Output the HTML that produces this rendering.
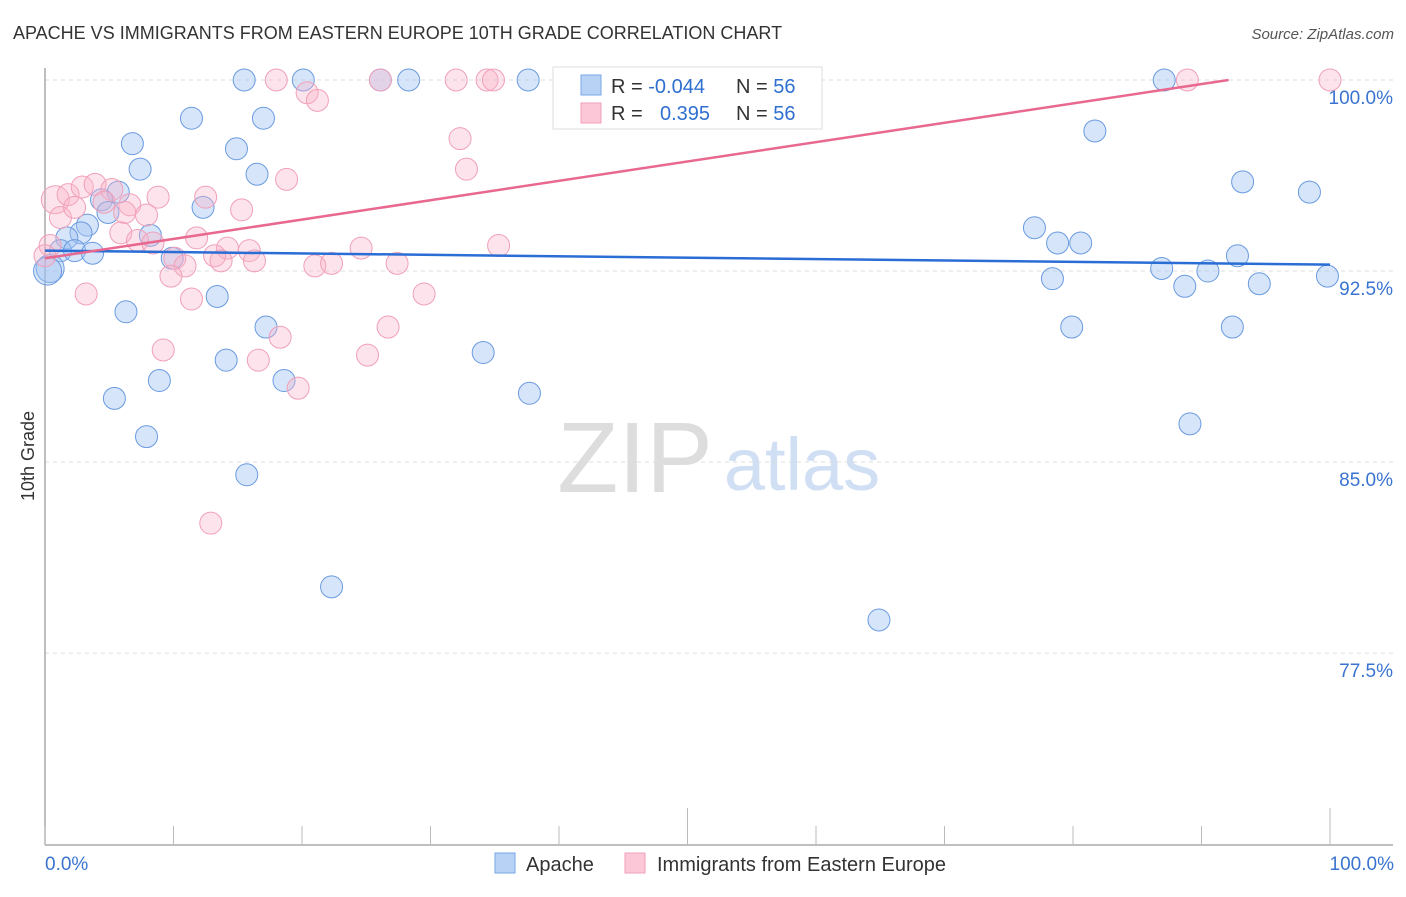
<!DOCTYPE html>
<html><head><meta charset="utf-8"><style>
body{margin:0;background:#fff;font-family:"Liberation Sans",sans-serif;}
svg text{font-family:"Liberation Sans",sans-serif;}
</style></head><body>
<svg id="chart" width="1406" height="892" viewBox="0 0 1406 892" xmlns="http://www.w3.org/2000/svg">
<text x="13" y="39" font-size="18" fill="#333">APACHE VS IMMIGRANTS FROM EASTERN EUROPE 10TH GRADE CORRELATION CHART</text>
<text x="1394" y="39" font-size="15" fill="#555" text-anchor="end" font-style="italic">Source: ZipAtlas.com</text>
<g>
<text x="635" y="492" font-size="100" fill="#ddd" font-family="Liberation Serif" text-anchor="middle">ZIP</text>
<text x="802" y="490" font-size="74" fill="#d0dff3" text-anchor="middle">atlas</text>
</g>
<text transform="translate(34,456) rotate(-90)" font-size="18" fill="#333" text-anchor="middle">10th Grade</text>
<g id="grid"></g>
<g id="axes"></g>
<g id="pts"></g>
<g id="lines"></g>
<g>
<rect x="553" y="67" width="269" height="62" fill="#fff" stroke="#ddd"/>
<rect x="581" y="75" width="20" height="20" fill="#b8d2f5" stroke="#7aa6e6"/>
<rect x="581" y="103" width="20" height="20" fill="#fcc8d8" stroke="#f0a0b8"/>
<text x="611" y="93" font-size="20" fill="#333">R = <tspan fill="#2f6fd0">-0.044</tspan></text>
<text x="736" y="93" font-size="20" fill="#333">N = <tspan fill="#2f6fd0">56</tspan></text>
<text x="611" y="120" font-size="20" fill="#333">R = <tspan fill="#2f6fd0" x="660">0.395</tspan></text>
<text x="736" y="120" font-size="20" fill="#333">N = <tspan fill="#2f6fd0">56</tspan></text>
</g>
<g>
<rect x="495" y="853" width="20" height="20" fill="#b8d2f5" stroke="#7aa6e6"/>
<text x="526" y="871" font-size="20" fill="#333">Apache</text>
<rect x="625" y="853" width="20" height="20" fill="#fcc8d8" stroke="#f0a0b8"/>
<text x="657" y="871" font-size="20" fill="#333">Immigrants from Eastern Europe</text>
</g>
<text x="45" y="870" font-size="19" fill="#3a74d0">0.0%</text>
<text x="1394" y="870" font-size="19" fill="#3a74d0" text-anchor="end">100.0%</text>
</svg>
<script>
const yTicks=[100,92.5,85,77.5];
const yTickLabels=["100.0%","92.5%","85.0%","77.5%"];
const apacheX=[15.5,20.1,26.1,28.3,37.6,42.6,87.1,11.4,17.0,6.8,14.9,7.4,16.5,81.7,93.2,98.4,5.7,4.4,4.9,12.3,3.3,2.8,1.7,8.2,1.2,2.3,3.7,9.9,0.4,0.2,77.0,78.8,80.6,86.9,90.5,92.8,78.4,88.7,94.5,99.8,13.4,6.3,17.2,79.9,92.4,34.1,14.1,8.9,18.6,5.4,37.7,7.9,89.1,15.7,22.3,64.9];
const apacheY=[100,100,100,100,100,100,100,98.5,98.5,97.5,97.3,96.5,96.3,98.0,96.0,95.6,95.6,95.3,94.8,95.0,94.3,94.0,93.8,93.9,93.3,93.3,93.2,93.0,92.6,92.5,94.2,93.6,93.6,92.6,92.5,93.1,92.2,91.9,92.0,92.3,91.5,90.9,90.3,90.3,90.3,89.3,89.0,88.2,88.2,87.5,87.7,86.0,86.5,84.5,80.1,78.8];
const immX=[18.0,26.1,32.0,34.4,34.9,50.1,88.9,100,20.4,21.2,32.3,32.8,18.8,0.8,1.8,2.9,3.9,5.2,6.6,1.2,2.3,4.6,8.8,12.5,15.3,6.2,7.9,5.9,7.2,8.4,11.8,14.2,15.9,24.6,35.3,0.4,0,10.1,10.9,13.2,13.7,16.3,21.0,22.3,27.4,9.8,3.2,11.4,29.5,26.7,18.3,9.2,25.1,16.6,19.7,12.9];
const immY=[100,100,100,100,100,100,100,100,99.5,99.2,97.7,96.5,96.1,95.3,95.5,95.8,95.9,95.7,95.1,94.6,95.0,95.2,95.4,95.4,94.9,94.8,94.7,94.0,93.7,93.6,93.8,93.4,93.3,93.4,93.5,93.5,93.1,93.0,92.7,93.1,92.9,92.9,92.7,92.8,92.8,92.3,91.6,91.4,91.6,90.3,89.9,89.4,89.2,89.0,87.9,82.6];
const apacheTrend=[93.3,92.75];
const immTrend=[93.0,100.6];
const NS="http://www.w3.org/2000/svg";
const X=v=>45+v*12.85, Y=v=>80+(100-v)*25.47;
function mk(tag,attrs,parent){const e=document.createElementNS(NS,tag);for(const k in attrs)e.setAttribute(k,attrs[k]);parent.appendChild(e);return e;}
const grid=document.getElementById('grid'),axes=document.getElementById('axes'),pts=document.getElementById('pts'),lines=document.getElementById('lines');
yTicks.forEach((t,i)=>{
 const l=mk('line',{x1:45,x2:1393,y1:Y(t),y2:Y(t),stroke:'#ddd','stroke-dasharray':'4,4'},grid);
 
 
 const tx=mk('text',{x:1393,y:Y(t)+24,'font-size':19,fill:'#3a74d0','text-anchor':'end'},grid);
 tx.textContent=yTickLabels[i];
 
 
});
const ya=mk('line',{x1:45,x2:45,y1:68,y2:845,stroke:'#aaa','stroke-width':1.5},axes);


const xa=mk('line',{x1:45,x2:1393,y1:845,y2:845,stroke:'#aaa','stroke-width':1.5},axes);


for(let i=0;i<=10;i++){
 const t=mk('line',{x1:X(i*10),x2:X(i*10),y1:(i==5||i==10)?808:826,y2:845,stroke:'#bbb'},axes);
 
 
}
function dots(xs,ys,fill,stroke,name){
 xs.forEach((x,i)=>{
  const big=(x<1&&(ys[i]>95||ys[i]<92.7));
  const c=mk('circle',{cx:X(x),cy:Y(ys[i]),r:big?14:11,fill:fill,stroke:stroke,'stroke-width':1},pts);
  
  
 });
}
dots(apacheX,apacheY,'rgba(160,193,242,0.42)','#6a9be0','apache-point');
dots(immX,immY,'rgba(248,178,200,0.35)','#f0a0b8','immigrants-point');
const bl=mk('line',{x1:X(0),y1:Y(apacheTrend[0]),x2:X(100),y2:Y(apacheTrend[1]),stroke:'#2a6dd4','stroke-width':2.5},lines);


const xe=(100-immTrend[0])/(immTrend[1]-immTrend[0])*100;
const pl=mk('line',{x1:X(0),y1:Y(immTrend[0]),x2:X(Math.min(100,xe)),y2:Y(Math.min(100,immTrend[1])),stroke:'#e8688f','stroke-width':2.5},lines);


</script>
</body></html>
